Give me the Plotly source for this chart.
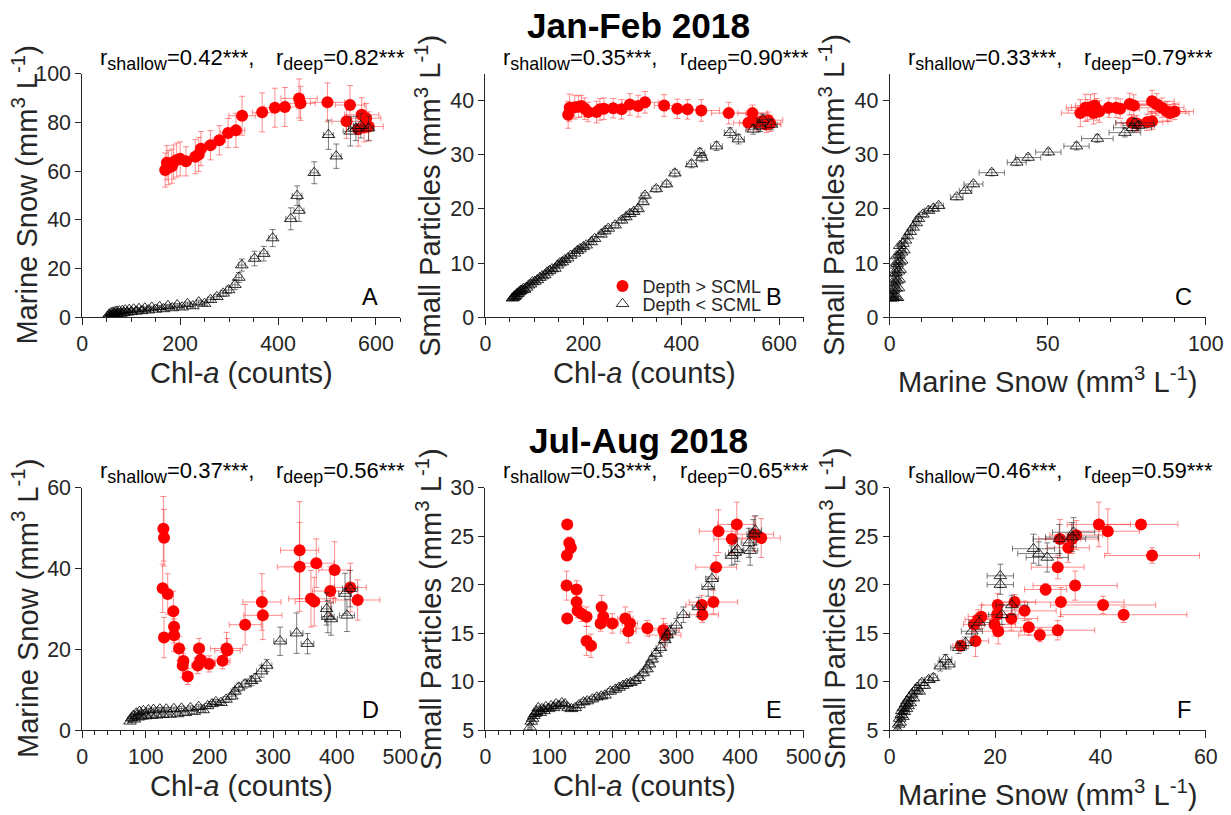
import plotly.graph_objects as go

# ---------------- DATA ----------------
a_red_x = [169.5,172.9,176,183,186.6,193,200,212,231,238,242.5,262,280,298,314,326.6,367.6,393.6,414,443,446,501,547,540,571,564,580,585,576]
a_red_y = [60.4,63.4,61.4,62.0,63.7,64.5,65.0,64.0,65.9,66.8,69.2,70.6,72.6,75.6,76.7,82.7,84.1,86.0,86.3,89.8,87.8,88.2,87.1,80.4,83.1,77.2,81.7,78.3,78.0]
a_red_ex = [6,6,6,7,7,8,8,9,10,10,10,12,13,15,18,27,20,22,25,37,30,35,30,30,35,25,30,30,20]
a_red_ey = [7,7,7,7,7,7,7,6,7,7,7,6,6,6,7,8,8,8,8,8,7,8,8,7,7,7,6,6,6]
a_blk_x = [52,55,57,59,61,63,65,67,69,71,73,76,79,82,85,88,92,96,100,105,110,116,122,128,135,142,150,158,166,175,184,194,204,215,226,238,250,262,275,288,299,312,320,326,352,371,389,426,443,439,474,519,503,548,559,569,585]
a_blk_y = [0.3,1.2,0.8,1.8,1.0,2.0,1.4,2.2,1.2,2.4,1.6,2.5,1.5,2.7,1.8,2.9,2.0,3.1,2.2,3.3,2.4,3.5,2.6,3.7,2.9,4.0,3.2,4.3,3.4,4.7,3.8,5.0,4.1,5.5,4.6,6.2,5.6,7.2,8.4,9.8,11.2,13.3,16.3,21.4,24.1,26.1,32.5,40.4,43.8,49.9,59.3,66.1,74.9,76.3,77.5,78.6,77.6]
a_blk_ex = [2,2,2,2,2,2,2,2,2,2,2,3,3,3,3,3,3,3,3,3,3,3,3,3,4,4,4,4,4,4,4,5,5,5,5,5,5,6,6,6,6,6,6,7,8,8,8,10,10,10,8,10,10,15,15,15,10]
a_blk_ey = [0.3,0.3,0.3,0.3,0.3,0.3,0.3,0.3,0.3,0.3,0.4,0.4,0.4,0.4,0.4,0.4,0.4,0.4,0.4,0.4,0.5,0.5,0.5,0.5,0.5,0.5,0.5,0.5,0.5,0.5,0.6,0.6,0.7,0.7,0.8,0.8,0.9,1.0,1.0,1.2,1.5,2,2,2.5,3,3,3.5,4.5,4.5,4,4.5,5,6,6,5,5,5]

b_red_x = [169,172,182.5,190,196,203,210,227,234,242,261,278,295,312,326,365,392,413,441,497,545.5,537,554,564,577.5,574,582]
b_red_y = [37.4,38.7,38.8,38.9,39.0,38.5,37.9,37.9,38.4,38.5,38.6,38.4,39.3,39.0,39.7,39.1,38.5,38.4,38.2,37.7,37.7,35.9,35.9,36.2,36.4,35.6,35.8]
b_red_ex = [6,6,7,7,8,8,9,9,10,10,12,13,15,18,27,20,22,25,37,35,30,30,35,25,30,30,20]
b_red_ey = [2.5,2.5,2.2,2,2,2,1.8,2,2,2,1.8,1.8,2,2,2,2,1.8,1.8,2,2,1.5,1.5,1.5,1.5,1.5,1.5,1.5]
b_blk_x = [55,57,59,60,62,64,66,68,70,72,75,78,80,84,88,92,96,101,106,111,116,121,126,131,136,142,147,152,157,162,168,174,182,188,193,200,206,216,223,236,244,251,265,278,287,295,303,312,322,326,349,370,387,421,438,442,472,500,517,547,561,567,584]
b_blk_y = [3.5,3.6,3.9,3.8,4.0,4.3,4.3,4.6,4.7,4.9,5.0,5.3,5.1,5.5,5.9,6.1,6.5,6.6,6.9,7.3,7.6,7.8,8.3,8.6,8.9,9.0,9.6,10.0,10.2,10.6,10.9,11.4,11.8,12.3,12.6,13.0,13.3,13.9,14.5,15.3,15.9,16.4,17.0,17.9,18.5,19.1,19.5,20.0,21.3,22.5,23.7,24.6,26.6,28.3,30.4,29.5,31.6,34.1,32.9,34.7,35.3,36.5,35.6]
b_blk_ex = [2,2,2,2,2,2,2,2,2,2,2,2,2,2,2,3,3,3,3,3,3,3,3,3,3,4,4,4,4,4,4,4,4,5,5,5,5,5,5,6,6,6,7,7,7,8,8,8,8,8,9,9,10,10,10,10,12,12,12,15,12,12,12]
b_blk_ey = [0.3,0.3,0.3,0.3,0.3,0.3,0.3,0.3,0.3,0.3,0.3,0.3,0.3,0.3,0.3,0.3,0.3,0.3,0.3,0.3,0.3,0.3,0.3,0.3,0.3,0.3,0.3,0.3,0.3,0.3,0.4,0.4,0.4,0.4,0.4,0.4,0.4,0.4,0.4,0.4,0.5,0.5,0.5,0.5,0.5,0.5,0.5,0.5,0.5,0.5,0.6,0.6,0.7,0.7,0.8,0.8,0.8,0.9,0.9,0.9,1.0,1.0,1.0]

c_red_x = [60.3,61.9,63.5,64.8,66.3,64.5,69.3,71.6,72.9,75.9,77.2,83.0,84.5,86.1,87.7,90.1,88.7,83.0,81.4,76.6,78.2,62.5,65.5]
c_red_y = [37.7,38.7,38.8,39.1,38.0,37.7,38.7,38.7,38.5,39.4,39.1,39.9,39.3,38.7,38.0,38.0,37.7,36.2,36.0,35.9,35.8,38.2,38.4]
c_red_ex = [6,6,6,6,6,5,6,6,6,7,7,7,7,7,6,6,6,5,5,5,5,6,6]
c_red_ey = [2.5,2.5,2.3,2.2,2,2,1.8,1.8,1.8,2,2,2,2,1.8,1.8,1.5,1.5,1.5,1.5,1.5,1.5,2,2]
c_blk_x = [0.3,0.6,1.0,1.5,2.0,2.5,0.5,1.2,2.0,2.8,0.8,1.6,2.4,3.0,1.2,2.0,2.8,3.3,1.6,2.4,3.2,3.8,2.2,3.0,3.8,4.5,3.2,4.2,5.0,5.6,6.5,7.4,8.4,9.1,10.5,12.3,13.8,15.5,21.2,24.0,26.5,32.3,40.2,43.8,50.2,59.1,65.7,74.4,76.8,77.5,78.8]
c_blk_y = [3.5,3.6,3.5,3.6,3.7,3.6,4.8,5.0,5.3,5.4,6.3,6.5,6.8,7.0,8.0,8.2,8.5,8.8,9.6,9.9,10.2,10.5,11.3,11.6,12.0,12.4,13.2,13.6,14.2,15.0,15.8,16.6,17.4,18.2,19.0,19.7,20.1,20.6,22.2,23.4,24.6,26.7,28.6,29.5,30.5,31.6,33.0,34.1,35.0,35.9,35.4]
c_blk_ex = [0.3,0.3,0.3,0.3,0.3,0.3,0.3,0.3,0.3,0.3,0.3,0.3,0.3,0.3,0.3,0.3,0.3,0.3,0.4,0.4,0.4,0.4,0.4,0.4,0.4,0.5,0.5,0.5,0.5,0.6,0.7,0.8,0.9,1.0,1.2,1.3,1.5,1.5,2.0,2.0,3.0,4.0,3.0,4.0,4.0,4.0,5.0,5.0,6.0,6.0,5.0]
c_blk_ey = [0.2,0.2,0.2,0.2,0.2,0.2,0.2,0.2,0.2,0.2,0.2,0.2,0.2,0.2,0.2,0.2,0.2,0.2,0.2,0.2,0.3,0.3,0.3,0.3,0.3,0.3,0.3,0.3,0.3,0.3,0.3,0.3,0.3,0.4,0.4,0.4,0.4,0.5,0.5,0.5,0.5,0.6,0.6,0.6,0.6,0.7,0.7,0.8,0.8,0.8,0.8]

d_red_x = [127.5,128.5,126.4,134.3,128.5,143.2,144.3,144.3,152.2,159,157.9,165.8,183.6,186.2,181.5,199.4,220.4,226.7,228.2,256,282.3,283.8,341.6,341.6,367.8,396.6,389.8,359.4,364.6,421.3,432.8]
d_red_y = [49.8,47.6,35.1,33.7,22.9,29.4,25.6,23.5,20.2,17.1,16.0,13.3,20.2,17.4,16.0,16.4,17.2,20.2,19.7,26.1,31.7,28.4,44.5,40.4,41.3,39.6,34.4,32.5,31.8,35.3,32.2]
d_red_ex = [2,2,2,3,2,4,4,4,5,6,6,8,8,10,10,10,12,25,20,25,30,30,30,35,28,25,28,35,30,25,35]
d_red_ey = [8,7,6,5,5,5,4,4,3,3,3,2,2.5,2,2,2,2,4,3,5,7,6,12,11,6,7,6,7,6,6,5]
d_blk_x = [75,78,80,82,85,88,90,93,96,100,104,108,112,117,122,127,132,138,144,150,156,162,170,176,183,190,197,204,210,218,226,235,240,246,256,266,272,282,290,311,337,354,384,386,391,413,416,421]
d_blk_y = [2.2,3.0,3.6,2.7,4.2,3.2,4.6,3.4,4.8,3.5,5.0,3.6,5.1,3.7,5.2,3.8,5.2,3.9,5.3,4.0,5.4,4.3,5.5,4.6,5.8,5.0,6.0,6.5,7.0,6.8,7.6,8.4,9.6,10.6,11.4,12.2,12.8,14.6,16.0,22.0,24.0,21.4,30.0,28.1,27.5,33.8,28.4,35.0]
d_blk_ex = [3,3,3,3,3,3,3,3,3,3,3,3,3,3,3,3,3,3,4,4,4,4,4,4,4,4,5,5,5,5,5,6,6,6,6,7,7,8,8,10,10,10,8,10,10,10,12,12]
d_blk_ey = [0.3,0.3,0.3,0.3,0.3,0.3,0.3,0.3,0.3,0.3,0.4,0.4,0.4,0.4,0.4,0.4,0.4,0.4,0.4,0.4,0.5,0.5,0.5,0.5,0.5,0.5,0.6,0.6,0.6,0.6,0.7,0.8,0.9,1.0,1.0,1.2,1.2,1.5,1.5,3.5,5.0,2.5,4.0,4.0,4.0,5.0,4.0,4.5]

e_red_x = [128.5,131.7,134.3,128,127.5,128.5,143.2,143.2,144.8,151,158.9,158.9,165.8,182.6,185.2,181,199.4,219.8,227.2,224.6,254.5,279.6,282.3,340,341,358.3,362.5,366.2,395,387.2,422.9,433.4]
e_red_y = [26.2,24.3,23.8,23.0,19.9,16.5,19.5,18.2,17.3,17.0,16.7,14.2,13.7,17.7,16.7,16.0,16.0,16.5,16.0,15.2,15.5,15.3,14.8,17.9,16.9,18.2,21.8,25.5,26.2,24.7,25.2,24.8]
e_red_ex = [3,3,3,3,3,3,4,4,4,5,5,6,8,8,8,8,10,12,12,12,18,25,25,25,25,38,32,30,30,28,30,30]
e_red_ey = [0.3,0.6,0.6,0.5,1.5,0.3,0.9,0.8,0.7,0.8,1.0,1.5,1.2,1.2,1.0,0.8,1.0,1.2,1.2,1.2,0.8,1.2,1.2,1.0,0.8,1.2,1.2,2.2,2.3,1.5,1.8,2.0]
e_blk_x = [70,72,74,76,78,80,83,86,89,92,95,99,103,107,111,115,120,125,130,135,141,147,154,160,168,175,182,188,196,204,210,216,222,228,235,241,248,254,258,262,268,275,282,286,290,300,311,335,350,356,387,392,396,414,416,421,424]
e_blk_y = [5.3,5.9,6.2,6.5,6.7,6.9,7.3,6.8,7.2,7.0,7.4,7.2,7.5,7.3,7.7,7.5,7.8,7.7,7.3,7.2,7.3,7.6,7.9,8.0,8.2,8.4,8.5,8.6,9.0,9.2,9.4,9.6,9.8,9.9,10.1,10.4,10.9,11.3,11.8,12.3,12.9,13.5,14.3,14.8,15.2,15.8,16.9,17.7,19.8,20.6,23.0,23.3,23.6,24.3,23.5,25.2,25.6]
e_blk_ex = [3,3,3,3,3,3,3,3,3,3,3,3,3,3,3,3,3,3,3,3,4,4,4,4,4,4,4,4,5,5,5,5,5,5,6,6,6,6,6,6,7,7,8,8,8,8,10,10,10,10,10,10,10,12,12,10,10]
e_blk_ey = [0.2,0.2,0.2,0.2,0.2,0.2,0.2,0.2,0.2,0.2,0.2,0.2,0.2,0.2,0.2,0.2,0.2,0.2,0.2,0.2,0.3,0.3,0.3,0.3,0.3,0.3,0.3,0.3,0.3,0.3,0.3,0.3,0.3,0.3,0.4,0.4,0.4,0.4,0.4,0.4,0.5,0.5,0.5,0.6,0.6,0.7,0.8,1.0,1.0,1.0,1.0,1.2,1.2,1.5,1.5,1.5,1.5]

f_red_x = [13.5,16.3,16.0,16.8,17.4,20.5,20.4,19.9,20.6,23.1,23.7,25.6,26.4,28.5,29.6,31.9,32.5,31.9,35.2,32.3,33.9,34.6,35.4,39.7,41.4,47.7,49.8,40.5,44.4]
f_red_y = [13.7,14.2,15.9,16.4,16.7,17.9,16.9,15.9,15.2,16.5,18.2,17.3,15.6,14.8,19.5,15.3,18.2,21.8,19.9,24.7,23.8,24.7,25.1,26.2,25.5,26.2,23.0,17.9,16.9]
f_red_ex = [1.5,2.5,2,2.5,2.5,3,4,4,5,5,4,6,5,4,4,7,12,5,8,4,4,5,5,6,6,7,9,10,12]
f_red_ey = [0.3,1.6,0.8,1.0,1.2,1.2,1.0,1.2,1.3,1.2,0.8,1.0,0.8,0.7,0.6,1.0,1.5,1.2,1.5,2.0,1.5,1.5,1.5,2.3,2.3,0.3,0.8,0.9,0.8]
f_blk_x = [1.5,1.7,1.9,2.0,2.2,2.3,2.5,2.6,2.8,3.0,3.2,3.3,3.5,3.7,3.9,4.2,4.5,4.8,5.2,5.6,6.1,6.6,7.4,8.3,9.6,10.6,11.2,13.1,14.4,15.6,17.0,21.0,21.0,21.3,23.2,27.3,28.3,29.9,32.2,34.6,34.9]
f_blk_y = [5.0,5.6,6.2,5.8,6.6,7.0,6.4,7.3,6.9,7.7,7.2,8.0,7.5,8.3,7.8,8.7,8.3,9.1,9.4,9.0,9.9,9.6,10.2,10.4,11.6,12.3,11.8,13.5,14.0,15.2,16.1,20.9,20.0,16.9,17.9,23.7,23.2,22.8,24.7,24.9,25.4]
f_blk_ex = [0.3,0.3,0.3,0.3,0.3,0.3,0.3,0.3,0.3,0.3,0.4,0.4,0.4,0.4,0.4,0.5,0.5,0.5,0.5,0.6,0.6,0.7,0.8,0.8,1.0,1.2,1.2,1.5,1.5,2.0,2.0,2.5,2.5,2.5,3.0,4.0,4.0,4.0,5.0,5.0,4.0]
f_blk_ey = [0.2,0.2,0.2,0.2,0.2,0.2,0.2,0.2,0.2,0.2,0.2,0.2,0.2,0.2,0.2,0.3,0.3,0.3,0.3,0.3,0.3,0.3,0.3,0.4,0.5,0.5,0.5,0.6,0.6,0.6,0.7,1.2,1.0,1.0,1.0,1.5,1.2,1.5,1.5,1.5,1.5]

panel_letters = ["A", "B", "C", "D", "E", "F"]
r_shallow = ["0.42", "0.35", "0.33", "0.37", "0.53", "0.46"]
r_deep = ["0.82", "0.90", "0.79", "0.56", "0.65", "0.59"]
titles = ["Jan-Feb 2018", "Jul-Aug 2018"]
legend_names = ["Depth > SCML", "Depth < SCML"]

# ---------------- LAYOUT GEOMETRY ----------------
# Positions are given in target-picture pixels; the photographed page shows the
# figure with a small offset and scale, which is compensated here.
W, H = 1231, 815
OFF, S = 7.8, 0.98
FONT = "Liberation Sans, Arial, Helvetica, sans-serif"
TXT = "#262626"


def px(p):
    return ((p - OFF) / S) / W


def py(p):
    return 1 - ((p - OFF) / S) / H


def fs(v):
    return round(v / S, 1)


col_px = [(84, 402), (487, 805), (891, 1207)]
row_px = [(70, 316), (488, 733)]

x_ranges = [[0, 650], [0, 650], [0, 100], [0, 500], [0, 500], [0, 60]]
x_dtick = [200, 200, 50, 100, 100, 20]
x_minor = [50, 50, 10, 20, 20, 5]
y_ranges = [[0, 100], [0, 45], [0, 45], [0, 60], [5, 30], [5, 30]]
y_dtick = [20, 10, 10, 20, 5, 5]

x_titles = ["Chl-<i>a</i> (counts)", "Chl-<i>a</i> (counts)", "Marine Snow (mm<sup>3</sup> L<sup>-1</sup>)",
            "Chl-<i>a</i> (counts)", "Chl-<i>a</i> (counts)", "Marine Snow (mm<sup>3</sup> L<sup>-1</sup>)"]
y_titles = ["Marine Snow (mm<sup>3</sup> L<sup>-1</sup>)", "Small Particles (mm<sup>3</sup> L<sup>-1</sup>)",
            "Small Particles (mm<sup>3</sup> L<sup>-1</sup>)", "Marine Snow (mm<sup>3</sup> L<sup>-1</sup>)",
            "Small Particles (mm<sup>3</sup> L<sup>-1</sup>)", "Small Particles (mm<sup>3</sup> L<sup>-1</sup>)"]

panels = [
    (a_red_x, a_red_y, a_red_ex, a_red_ey, a_blk_x, a_blk_y, a_blk_ex, a_blk_ey),
    (b_red_x, b_red_y, b_red_ex, b_red_ey, b_blk_x, b_blk_y, b_blk_ex, b_blk_ey),
    (c_red_x, c_red_y, c_red_ex, c_red_ey, c_blk_x, c_blk_y, c_blk_ex, c_blk_ey),
    (d_red_x, d_red_y, d_red_ex, d_red_ey, d_blk_x, d_blk_y, d_blk_ex, d_blk_ey),
    (e_red_x, e_red_y, e_red_ex, e_red_ey, e_blk_x, e_blk_y, e_blk_ex, e_blk_ey),
    (f_red_x, f_red_y, f_red_ex, f_red_ey, f_blk_x, f_blk_y, f_blk_ex, f_blk_ey),
]

RED = "#ff0000"
RED_ERR = "rgba(255,30,30,0.5)"
BLK_ERR = "rgba(40,40,40,0.6)"

fig = go.Figure()
legend_common = dict(xanchor="left", yanchor="top", bgcolor="rgba(0,0,0,0)",
                     font=dict(size=fs(17.6), family=FONT, color=TXT), itemwidth=30)
layout = dict(
    width=W, height=H,
    margin=dict(l=0, r=0, t=0, b=0),
    paper_bgcolor="white", plot_bgcolor="white",
    font=dict(family=FONT, color=TXT),
    showlegend=True,
    legend=dict(x=px(604), y=py(266), **legend_common),
    legend2=dict(x=px(604), y=py(284), **legend_common),
)
annotations = []

for i, (rx, ry, rex, rey, bx, by, bex, bey) in enumerate(panels):
    r, c = divmod(i, 3)
    x0, x1 = col_px[c]
    ytop, ybot = row_px[r]
    sfx = "" if i == 0 else str(i + 1)
    xa, ya = "x" + sfx, "y" + sfx

    fig.add_trace(go.Scatter(
        x=rx, y=ry, mode="markers", name=legend_names[0], xaxis=xa, yaxis=ya,
        showlegend=(i == 1), legend="legend",
        marker=dict(symbol="circle", size=12, color=RED, line=dict(width=0)),
        error_x=dict(type="data", array=rex, color=RED_ERR, thickness=1, width=3),
        error_y=dict(type="data", array=rey, color=RED_ERR, thickness=1, width=3),
    ))
    fig.add_trace(go.Scatter(
        x=bx, y=by, mode="markers", name=legend_names[1], xaxis=xa, yaxis=ya,
        showlegend=(i == 1), legend="legend2",
        marker=dict(symbol="triangle-up-open", size=11, color="black", line=dict(width=0.8, color="black")),
        error_x=dict(type="data", array=bex, color=BLK_ERR, thickness=1, width=3),
        error_y=dict(type="data", array=bey, color=BLK_ERR, thickness=1, width=3),
    ))

    layout["xaxis" + sfx] = dict(
        domain=[px(x0), px(x1)], anchor=ya, range=x_ranges[i],
        showline=True, linecolor=TXT, linewidth=1, showgrid=False, zeroline=False,
        ticks="outside", ticklen=7, tickwidth=1, tickcolor=TXT, dtick=x_dtick[i], tick0=0,
        tickfont=dict(size=fs(21), family=FONT, color=TXT), ticklabelstandoff=0,
        minor=dict(dtick=x_minor[i], tick0=0, ticks="outside", ticklen=4, tickcolor=TXT, showgrid=False),
        fixedrange=True,
    )
    layout["yaxis" + sfx] = dict(
        domain=[py(ybot), py(ytop)], anchor=xa, range=y_ranges[i],
        showline=True, linecolor=TXT, linewidth=1, showgrid=False, zeroline=False,
        ticks="outside", ticklen=6, tickwidth=1, tickcolor=TXT, dtick=y_dtick[i], tick0=0,
        tickfont=dict(size=fs(21), family=FONT, color=TXT), ticklabelstandoff=0,
        fixedrange=True,
    )

    ry_txt = 56 if r == 0 else 473
    sub_style = 'font-size:%spx' % fs(17.5)
    annotations.append(dict(
        xref="paper", yref="paper", x=px(x0 + 16), y=py(ry_txt), xanchor="left", yanchor="middle",
        text='r<sub><span style="%s">shallow</span></sub>=' % sub_style + r_shallow[i] + "***,",
        showarrow=False, font=dict(size=fs(21.6), family=FONT, color="black")))
    annotations.append(dict(
        xref="paper", yref="paper", x=px(x0 + 192), y=py(ry_txt), xanchor="left", yanchor="middle",
        text='r<sub><span style="%s">deep</span></sub>=' % sub_style + r_deep[i] + "***",
        showarrow=False, font=dict(size=fs(21.6), family=FONT, color="black")))
    annotations.append(dict(
        xref="paper", yref="paper", x=px(x1 - 30 + (0 if c < 2 else 8)), y=py(ybot - 20),
        xanchor="center", yanchor="middle", text=panel_letters[i], showarrow=False,
        font=dict(size=fs(23), family=FONT, color="black")))
    has_sup_x = "sup" in x_titles[i]
    annotations.append(dict(
        xref="paper", yref="paper", x=px((x0 + x1) / 2), y=py(ybot + (63 if has_sup_x else 56)),
        xanchor="center", yanchor="middle", text=x_titles[i], showarrow=False,
        font=dict(size=fs(28.5), family=FONT, color=TXT)))
    annotations.append(dict(
        xref="paper", yref="paper", x=px(x0 - 57), y=py((ytop + ybot) / 2),
        xanchor="center", yanchor="middle", text=y_titles[i], textangle=-90, showarrow=False,
        font=dict(size=fs(28.5), family=FONT, color=TXT)))

annotations.append(dict(xref="paper", yref="paper", x=px(640), y=py(21), xanchor="center", yanchor="middle",
                        text="<b>" + titles[0] + "</b>", showarrow=False,
                        font=dict(size=fs(34.5), family=FONT, color="black")))
annotations.append(dict(xref="paper", yref="paper", x=px(640), y=py(440), xanchor="center", yanchor="middle",
                        text="<b>" + titles[1] + "</b>", showarrow=False,
                        font=dict(size=fs(34.5), family=FONT, color="black")))

layout["annotations"] = annotations
fig.update_layout(**layout)
fig.write_html("out.html")
